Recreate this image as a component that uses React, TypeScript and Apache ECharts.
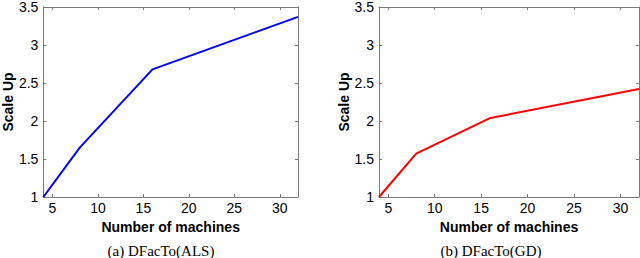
import React, { useEffect, useRef } from "react";
import * as echarts from "echarts";

const machines = [4, 8, 16, 32];
const scaleUpALS = [1, 1.65, 2.68, 3.37];
const scaleUpGD = [1, 1.57, 2.04, 2.42];
const xTickValues = [5, 10, 15, 20, 25, 30];
const captions = ["(a) DFacTo(ALS)", "(b) DFacTo(GD)"];
const xName = "Number of machines";
const yName = "Scale Up";

const AXIS_COLOR = "#7a7a7a";
const SANS = "Liberation Sans, Arial, Helvetica, sans-serif";

export default function App() {
  const ref = useRef<HTMLDivElement>(null);
  useEffect(() => {
    if (!ref.current) return;
    const chart = echarts.init(ref.current, undefined, { renderer: "svg" });
    const grids = [
      { left: 38, top: 5, width: 260, height: 192 },
      { left: 379, top: 5, width: 260, height: 192 },
    ];
    const xAxes: any[] = [];
    const yAxes: any[] = [];
    grids.forEach((_, gi) => {
      xAxes.push({
        type: "value",
        gridIndex: gi,
        min: 4,
        max: 32,
        position: "bottom",
        name: xName,
        nameLocation: "middle",
        nameGap: 18,
        nameTextStyle: { fontFamily: SANS, fontSize: 14, fontWeight: "bold", color: "#000" },
        axisLine: { show: true, lineStyle: { color: AXIS_COLOR, width: 1 } },
        axisTick: { show: true, inside: true, length: 3, customValues: xTickValues, lineStyle: { color: AXIS_COLOR } },
        axisLabel: { show: true, customValues: xTickValues, margin: 4, fontFamily: SANS, fontSize: 14, color: "#000" },
        splitLine: { show: false },
      });
      xAxes.push({
        type: "value",
        gridIndex: gi,
        min: 4,
        max: 32,
        position: "top",
        axisLine: { show: true, lineStyle: { color: AXIS_COLOR, width: 1 } },
        axisTick: { show: true, inside: true, length: 3, customValues: xTickValues, lineStyle: { color: AXIS_COLOR } },
        axisLabel: { show: false },
        splitLine: { show: false },
      });
      yAxes.push({
        type: "value",
        gridIndex: gi,
        min: 1,
        max: 3.5,
        interval: 0.5,
        position: "left",
        name: yName,
        nameLocation: "middle",
        nameGap: 25,
        nameTextStyle: { fontFamily: SANS, fontSize: 14, fontWeight: "bold", color: "#000" },
        axisLine: { show: true, lineStyle: { color: AXIS_COLOR, width: 1 } },
        axisTick: { show: true, inside: true, length: 3, lineStyle: { color: AXIS_COLOR } },
        axisLabel: { show: true, margin: 5, fontFamily: SANS, fontSize: 14, color: "#000" },
        splitLine: { show: false },
      });
      yAxes.push({
        type: "value",
        gridIndex: gi,
        min: 1,
        max: 3.5,
        interval: 0.5,
        position: "right",
        axisLine: { show: true, lineStyle: { color: AXIS_COLOR, width: 1 } },
        axisTick: { show: true, inside: true, length: 3, lineStyle: { color: AXIS_COLOR } },
        axisLabel: { show: false },
        splitLine: { show: false },
      });
    });
    chart.setOption({
      animation: false,
      backgroundColor: "#fff",
      grid: grids,
      xAxis: xAxes,
      yAxis: yAxes,
      series: [
        {
          type: "line",
          xAxisIndex: 0,
          yAxisIndex: 0,
          data: machines.map((m, i) => [m, scaleUpALS[i]]),
          showSymbol: false,
          lineStyle: { color: "#0000ff", width: 2 },
          clip: false,
        },
        {
          type: "line",
          xAxisIndex: 2,
          yAxisIndex: 2,
          data: machines.map((m, i) => [m, scaleUpGD[i]]),
          showSymbol: false,
          lineStyle: { color: "#ff0000", width: 2 },
          clip: false,
        },
      ],
      graphic: [
        {
          type: "text",
          x: 161,
          y: 251,
          style: {
            text: captions[0],
            fontFamily: "Liberation Serif, Times New Roman, serif",
            fontSize: 15,
            fill: "#000",
            textAlign: "center",
            textVerticalAlign: "middle",
          },
        },
        {
          type: "text",
          x: 491,
          y: 251,
          style: {
            text: captions[1],
            fontFamily: "Liberation Serif, Times New Roman, serif",
            fontSize: 15,
            fill: "#000",
            textAlign: "center",
            textVerticalAlign: "middle",
          },
        },
      ],
    });
    return () => chart.dispose();
  }, []);
  return <div ref={ref} style={{ width: 640, height: 258, position: "absolute", left: 0, top: 0 }} />;
}
